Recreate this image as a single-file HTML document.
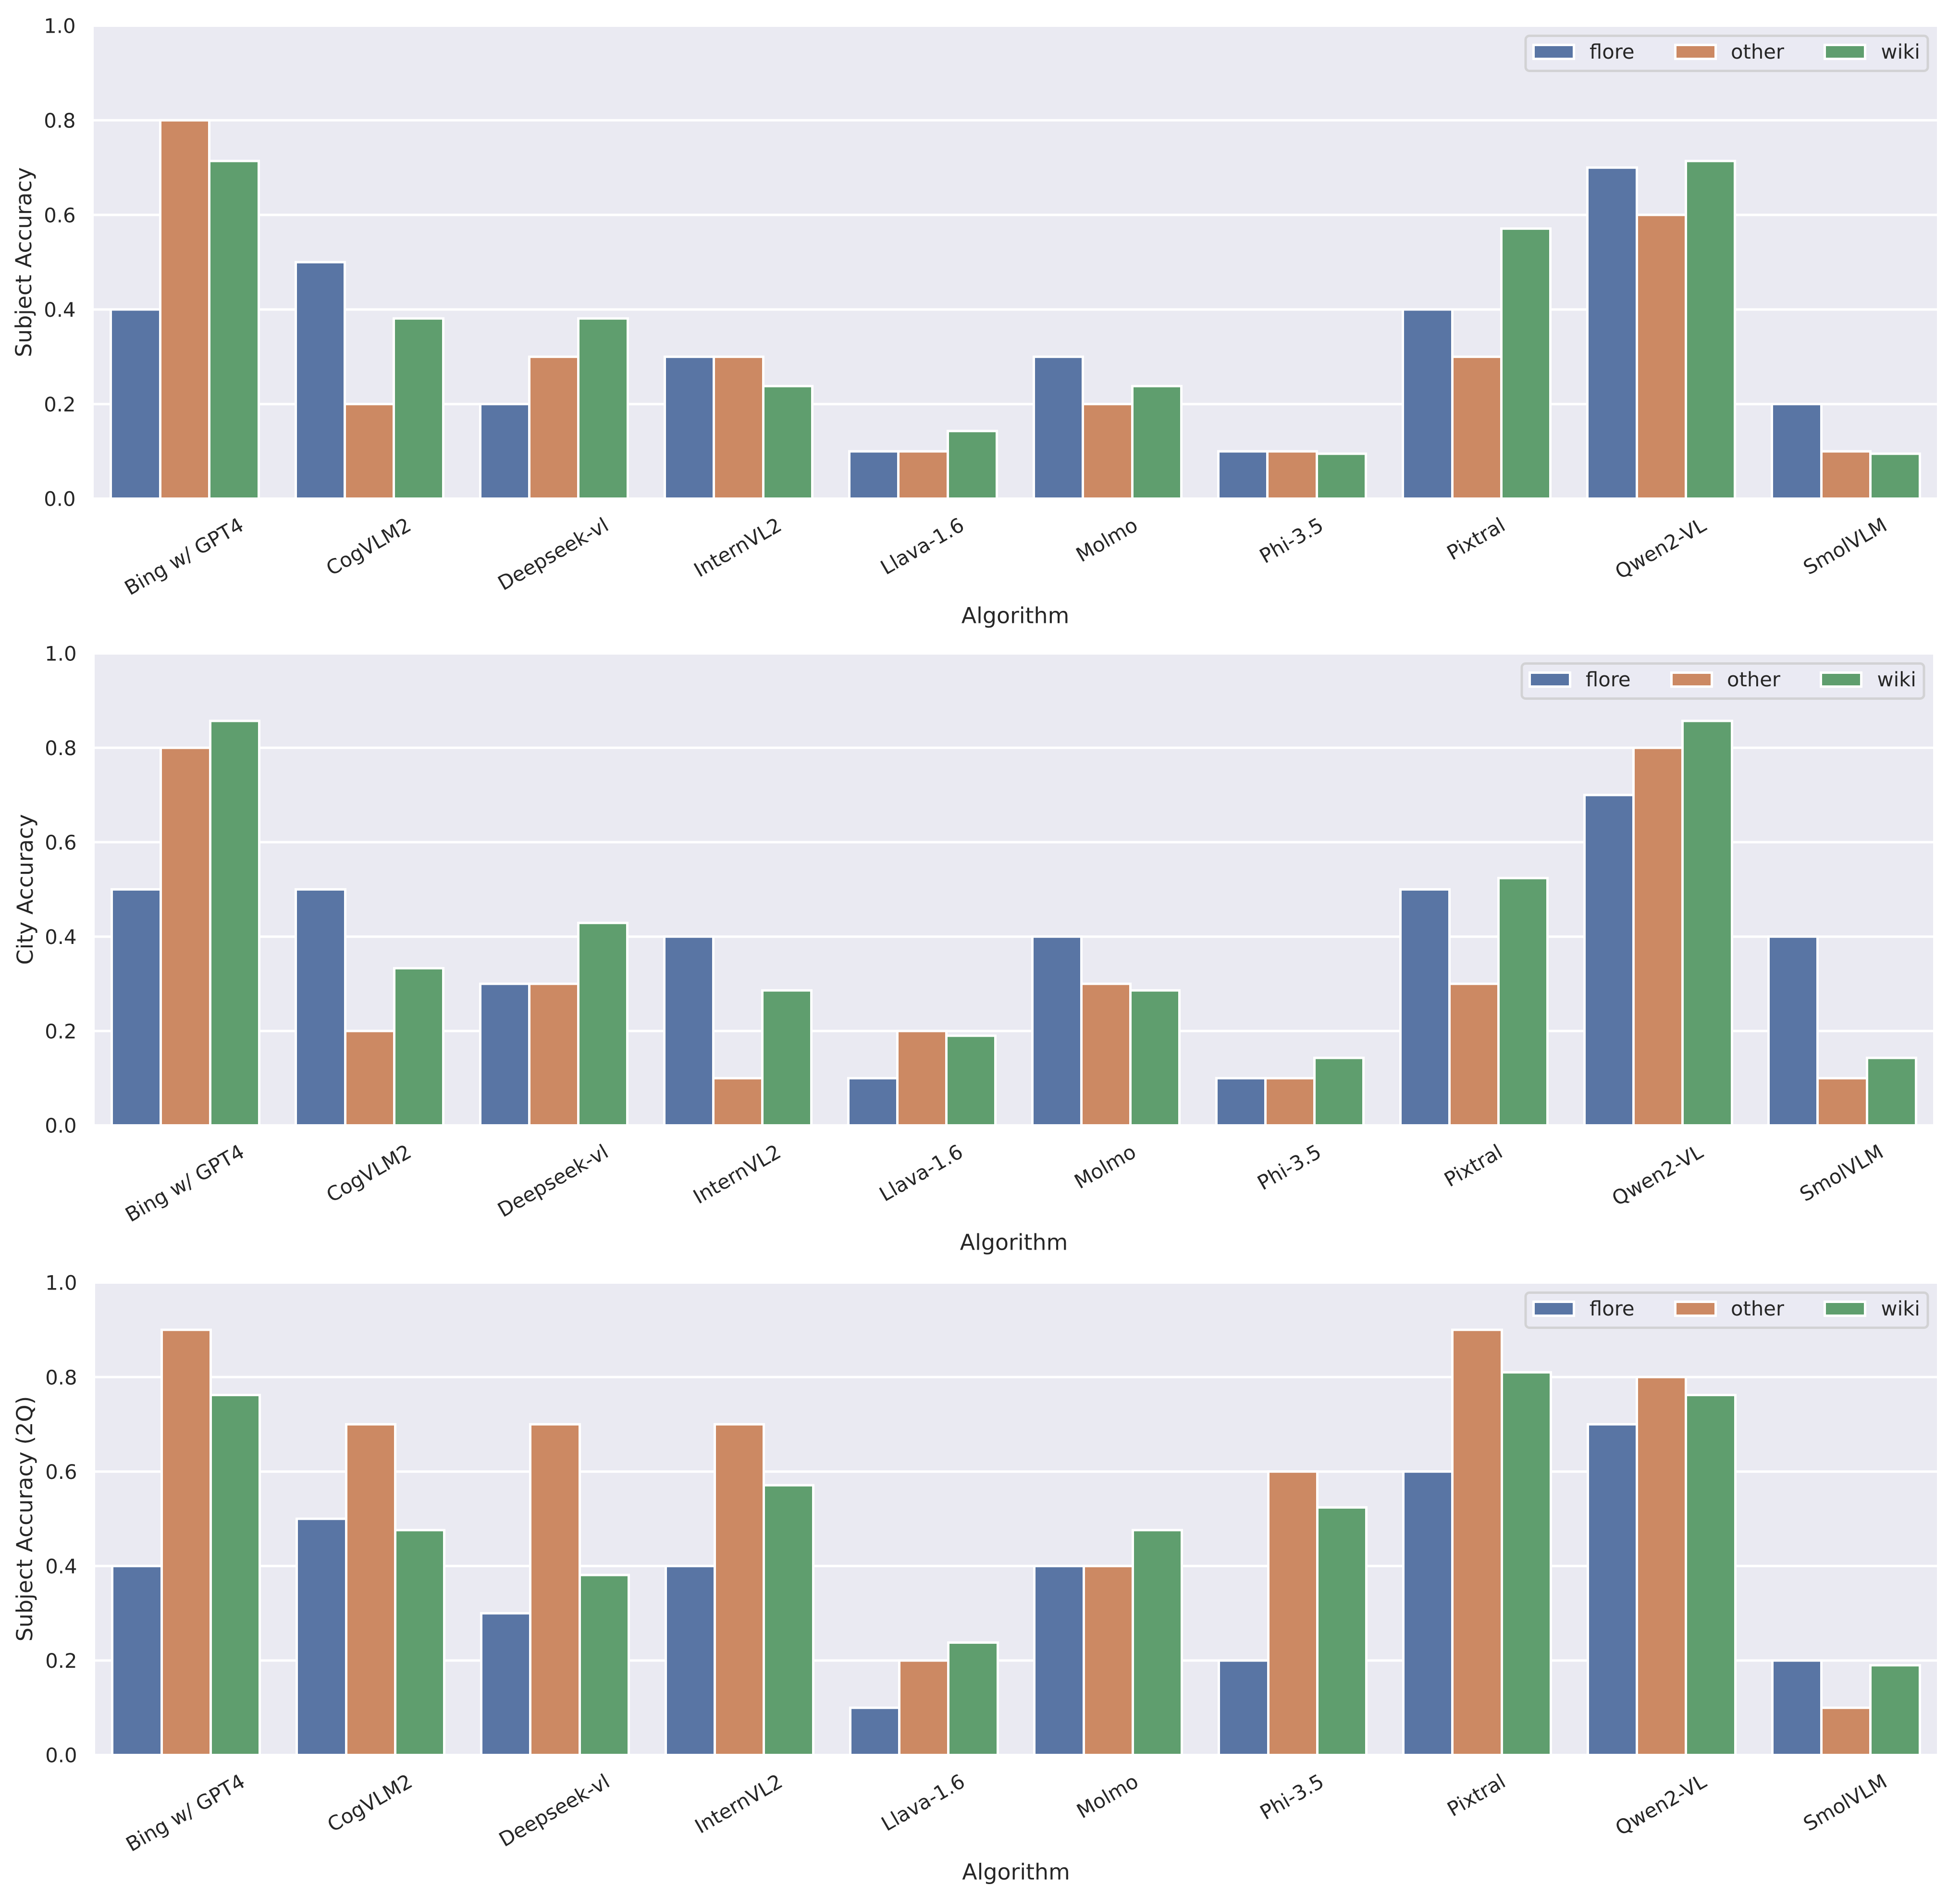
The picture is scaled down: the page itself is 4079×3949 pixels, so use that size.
<!DOCTYPE html>
<html lang="en">
<head>
<meta charset="utf-8">
<title>Accuracy by algorithm</title>
<style>
  html, body { margin: 0; padding: 0; background: #ffffff; }
  svg { display: block; }
  text { font-family: "DejaVu Sans", "Liberation Sans", sans-serif; fill: #262626; text-rendering: geometricPrecision; }
</style>
</head>
<body>
<svg id="figure" xmlns="http://www.w3.org/2000/svg" width="4079" height="3949" viewBox="0 0 4079 3949">
  <rect x="0" y="0" width="4079" height="3949" fill="#ffffff"></rect>
</svg>
<script>
const categories = ["Bing w/ GPT4", "CogVLM2", "Deepseek-vl", "InternVL2", "Llava-1.6", "Molmo", "Phi-3.5", "Pixtral", "Qwen2-VL", "SmolVLM"];
const seriesNames = ["flore", "other", "wiki"];
const yTicks = [0, 0.2, 0.4, 0.6, 0.8, 1.0];
const yTickLabels = ["0.0", "0.2", "0.4", "0.6", "0.8", "1.0"];

const subjectFlore = [0.4, 0.5, 0.2, 0.3, 0.1, 0.3, 0.1, 0.4, 0.7, 0.2];
const subjectOther = [0.8, 0.2, 0.3, 0.3, 0.1, 0.2, 0.1, 0.3, 0.6, 0.1];
const subjectWiki = [0.714, 0.381, 0.381, 0.238, 0.143, 0.238, 0.095, 0.571, 0.714, 0.095];

const cityFlore = [0.5, 0.5, 0.3, 0.4, 0.1, 0.4, 0.1, 0.5, 0.7, 0.4];
const cityOther = [0.8, 0.2, 0.3, 0.1, 0.2, 0.3, 0.1, 0.3, 0.8, 0.1];
const cityWiki = [0.857, 0.333, 0.429, 0.286, 0.190, 0.286, 0.143, 0.524, 0.857, 0.143];

const subject2qFlore = [0.4, 0.5, 0.3, 0.4, 0.1, 0.4, 0.2, 0.6, 0.7, 0.2];
const subject2qOther = [0.9, 0.7, 0.7, 0.7, 0.2, 0.4, 0.6, 0.9, 0.8, 0.1];
const subject2qWiki = [0.762, 0.476, 0.381, 0.571, 0.238, 0.476, 0.524, 0.810, 0.762, 0.190];

const palette = ["#5975a4", "#cc8963", "#5f9e6e"];
const svgNS = "http://www.w3.org/2000/svg";
const root = document.getElementById("figure");

function mk(tag, parent, attrs) {
  const el = document.createElementNS(svgNS, tag);
  for (const k in attrs) el.setAttribute(k, attrs[k]);
  parent.appendChild(el);
  return el;
}
function half(v) { return Math.round(v - 0.5) + 0.5; }

function drawPanel(p, index) {
  const g = mk("g", root, {});
  
  

  const xScale = function (v) { return p.L + (v + 0.5) / 10 * (p.R - p.L); };
  const yScale = function (v) { return p.B - v * (p.B - p.T); };

  const clipId = "clip-" + index;
  const defs = mk("defs", g, {});
  const clip = mk("clipPath", defs, { id: clipId });
  mk("rect", clip, { x: p.L, y: p.T, width: p.R - p.L, height: p.B - p.T });

  const bg = mk("rect", g, { x: p.L, y: p.T, width: p.R - p.L, height: p.B - p.T, fill: "#eaeaf2" });
  
  

  yTicks.forEach(function (t, i) {
    const y = yScale(t);
    const line = mk("line", g, { x1: p.L, x2: p.R, y1: y, y2: y, stroke: "#ffffff", "stroke-width": 5 });
    
    
    const label = mk("text", g, { x: p.L - 35, y: y + 15.2, "text-anchor": "end", "font-size": 41.67 });
    label.textContent = yTickLabels[i];
    
    
  });

  const barsGroup = mk("g", g, { "clip-path": "url(#" + clipId + ")" });
  
  
  const barWidth = 0.8 / 3;
  p.series.forEach(function (values, s) {
    values.forEach(function (v, i) {
      const x0 = half(xScale(i - 0.4 + s * barWidth));
      const x1 = half(xScale(i - 0.4 + (s + 1) * barWidth));
      const y0 = yScale(v);
      const bar = mk("rect", barsGroup, {
        x: x0, y: y0, width: x1 - x0, height: p.B - y0,
        fill: palette[s], stroke: "#ffffff", "stroke-width": 5
      });
      
      
    });
  });

  [[p.L, p.T, p.L, p.B], [p.R, p.T, p.R, p.B], [p.L, p.T, p.R, p.T], [p.L, p.B, p.R, p.B]].forEach(function (c, i) {
    const spine = mk("line", g, { x1: c[0], y1: c[1], x2: c[2], y2: c[3], stroke: "#ffffff", "stroke-width": 5, "stroke-linecap": "square" });
    
    
  });

  categories.forEach(function (name, i) {
    const label = mk("text", g, { "text-anchor": "middle", "font-size": 41.67, x: 0, y: 14.2 });
    label.textContent = name;
    const w = label.getComputedTextLength();
    const boxHeight = w * 0.5 + 36;
    const cx = xScale(i) - 1.5;
    const cy = p.B + 33.2 + boxHeight / 2;
    label.setAttribute("transform", "translate(" + cx + " " + cy + ") rotate(-30)");
    
    
  });

  const xTitle = mk("text", g, { x: (p.L + p.R) / 2, y: p.B + 259, "text-anchor": "middle", "font-size": 45.83 });
  xTitle.textContent = "Algorithm";
  
  

  const yTitle = mk("text", g, { "text-anchor": "middle", "font-size": 45.83, transform: "translate(" + p.yTitleX + " " + (p.T + p.B) / 2 + ") rotate(-90)" });
  yTitle.textContent = p.yTitle;
  
  

  const legend = mk("g", g, {});
  
  
  const lx = p.R - 858.5;
  const ly = p.T + 21;
  mk("rect", legend, { x: lx, y: ly, width: 837, height: 73, rx: 8, ry: 8, fill: "rgba(234,234,242,0.8)", stroke: "rgba(204,204,204,0.8)", "stroke-width": 5 });
  const swatchX = [16.5, 311.5, 622.5];
  const textX = [133, 427, 739.5];
  seriesNames.forEach(function (name, s) {
    const swatch = mk("rect", legend, { x: lx + swatchX[s], y: ly + 19, width: 84, height: 29, fill: palette[s], stroke: "#ffffff", "stroke-width": 5 });
    
    
    const t = mk("text", legend, { x: lx + textX[s], y: ly + 47.5, "font-size": 41.67 });
    t.textContent = name;
    
    
  });
}

drawPanel({ slug: "subject-accuracy", yTitle: "Subject Accuracy", L: 192.5, R: 4033.5, T: 53.5, B: 1037.5, yTitleX: 65,
  series: [subjectFlore, subjectOther, subjectWiki] }, 0);
drawPanel({ slug: "city-accuracy", yTitle: "City Accuracy", L: 194.5, R: 4025.5, T: 1359.5, B: 2341.5, yTitleX: 68,
  series: [cityFlore, cityOther, cityWiki] }, 1);
drawPanel({ slug: "subject-accuracy-2q", yTitle: "Subject Accuracy (2Q)", L: 195.5, R: 4033.5, T: 2668.5, B: 3651.5, yTitleX: 67,
  series: [subject2qFlore, subject2qOther, subject2qWiki] }, 2);
</script>
</body>
</html>
